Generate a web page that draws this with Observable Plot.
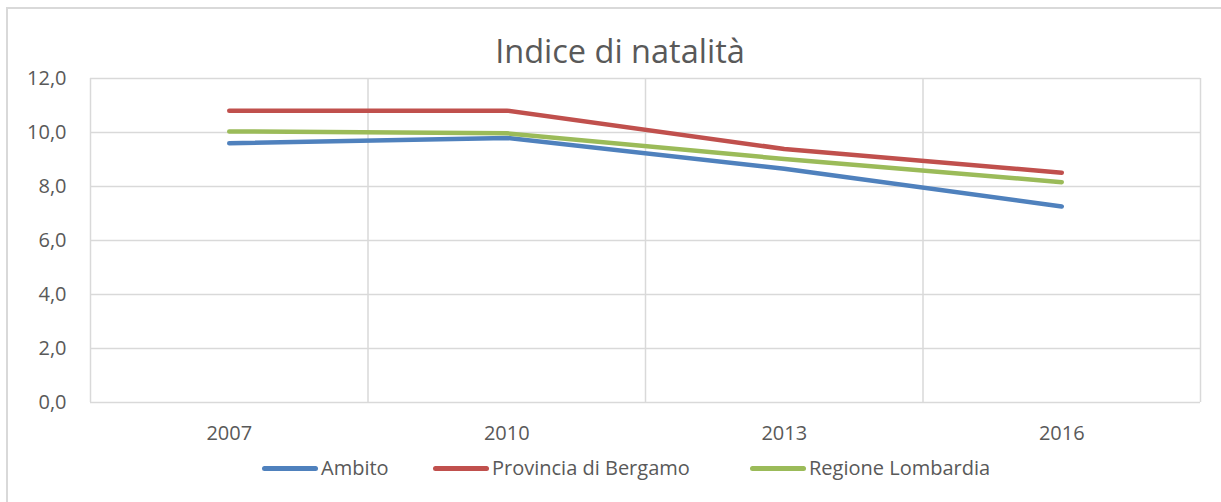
<!DOCTYPE html>
<html>
<head>
<meta charset="utf-8">
<script src="https://cdn.jsdelivr.net/npm/d3@7"></script>
<script src="https://cdn.jsdelivr.net/npm/@observablehq/plot@0.6"></script>
<style>
  body { margin: 0; background: #fff; font-family: "Open Sans", sans-serif; }
  #wrap { position: relative; width: 1221px; height: 502px; overflow: hidden; }
  #frame { position: absolute; left: 6px; top: 7px; width: 1300px; height: 600px;
           border-left: 2px solid #d9d9d9; border-top: 2px solid #d9d9d9; }
  #title { position: absolute; left: 0; top: 30px; width: 1240px; text-align: center;
           font-size: 32.5px; color: #595959; line-height: 42px; z-index: 2; }
  #chart { position: absolute; left: 0; top: 50px; }
  #legend { position: absolute; top: 454px; left: 0; width: 1221px; height: 28px; }
  .item { position: absolute; top: 0; display: flex; align-items: center; font-size: 20px; color: #595959; line-height: 28px; }
  .sw { width: 56px; height: 5px; border-radius: 3px; margin-right: 3px; }
</style>
</head>
<body>
<div id="wrap">
  <div id="frame"></div>
  <div id="chart"></div>
  <div id="title">Indice di natalità</div>
  <div id="legend"></div>
</div>
<script>
const years = ["2007", "2010", "2013", "2016"];
const seriesNames = ["Ambito", "Provincia di Bergamo", "Regione Lombardia"];
const colors = ["#4F81BD", "#C0504D", "#9BBB59"];
const ambito = [9.60, 9.80, 8.66, 7.26];
const provincia = [10.81, 10.81, 9.39, 8.51];
const regione = [10.04, 9.97, 9.02, 8.16];
const yTicks = [0, 2, 4, 6, 8, 10, 12];

const seriesValues = [ambito, provincia, regione];
const data = [];
seriesNames.forEach((name, s) => {
  seriesValues[s].forEach((v, i) => data.push({series: name, idx: i, year: years[i], value: v}));
});

const gridXTicks = d3.range(-0.5, years.length, 1);
const fmt = d => d.toFixed(1).replace(".", ",");

const chart = Plot.plot({
  width: 1221,
  height: 400,
  marginLeft: 90,
  marginRight: 21,
  marginTop: 28,
  marginBottom: 48,
  style: { fontFamily: "Open Sans, sans-serif", fontSize: "20px", color: "#595959", background: "transparent" },
  x: { type: "linear", domain: [-0.5, years.length - 0.5], label: null },
  y: { domain: [0, 12], label: null },
  color: { domain: seriesNames, range: colors },
  marks: [
    Plot.gridY(yTicks, { stroke: "#d9d9d9", strokeOpacity: 1, strokeWidth: 1.5 }),
    Plot.gridX(gridXTicks, { stroke: "#d9d9d9", strokeOpacity: 1, strokeWidth: 1.5 }),
    Plot.axisY(yTicks, { tickSize: 0, tickPadding: 24, tickFormat: fmt, fill: "#595959", fontSize: 20, label: null }),
    Plot.axisX(d3.range(years.length), { tickSize: 0, tickPadding: 23, tickFormat: i => years[i], fill: "#595959", fontSize: 20, label: null }),
    Plot.line(data, { x: "idx", y: "value", z: "series", stroke: "series", strokeWidth: 4.5, strokeLinecap: "round", strokeLinejoin: "round" })
  ]
});
document.getElementById("chart").appendChild(chart);

const legendPos = [262, 433, 750];
const legend = document.getElementById("legend");
seriesNames.forEach((name, i) => {
  const it = document.createElement("div");
  it.className = "item";
  it.style.left = legendPos[i] + "px";
  const sw = document.createElement("div");
  sw.className = "sw";
  sw.style.background = colors[i];
  const lb = document.createElement("span");
  lb.textContent = name;
  it.appendChild(sw);
  it.appendChild(lb);
  legend.appendChild(it);
});
</script>
</body>
</html>
